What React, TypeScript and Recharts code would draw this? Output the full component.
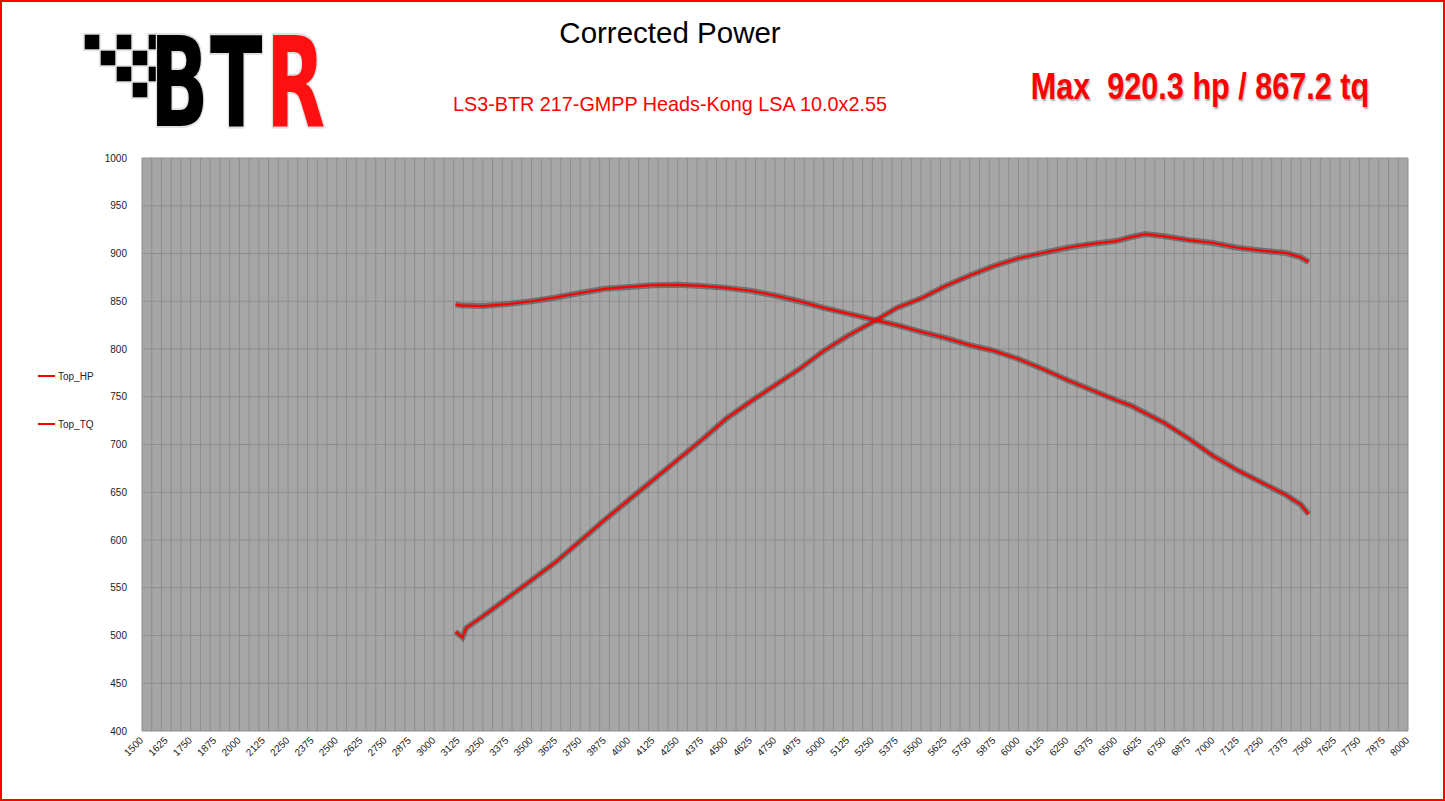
import React from 'react';
import { LineChart, Line, XAxis, YAxis, CartesianGrid } from 'recharts';

const rpm = [3110, 3145, 3165, 3250, 3375, 3500, 3625, 3750, 3875, 4000, 4125, 4250, 4375, 4500, 4625, 4750, 4875, 5000, 5125, 5250, 5375, 5500, 5625, 5750, 5875, 6000, 6125, 6250, 6375, 6500, 6575, 6650, 6750, 6875, 7000, 7125, 7250, 7375, 7450, 7490];
const topHP = [504, 498, 508, 520, 539, 558, 577, 599, 621, 642, 663, 684, 705, 727, 745, 762, 779, 798, 814, 828, 843, 853, 866, 877, 887, 895, 900.5, 906, 910, 913, 917, 920.3, 918, 914, 911, 906, 903, 900.5, 896, 891];
const topTQ = [846.5, 845.5, 845.5, 845, 847, 850, 854, 858.6, 863, 865, 866.8, 867.2, 866, 864, 861, 856, 850, 843, 837, 831, 825, 818, 811.5, 804, 798, 789.5, 779, 767.5, 757, 746.6, 741, 733, 722.5, 706, 688, 673, 660, 647, 637, 627];

const xTicks: number[] = [];
for (let v = 1500; v <= 8000; v += 125) xTicks.push(v);
const yTicks: number[] = [];
for (let v = 400; v <= 1000; v += 50) yTicks.push(v);
const xGrid: number[] = [];
for (let v = 1500; v <= 8000; v += 50) xGrid.push(v);

const seriesNames = ['Top_HP', 'Top_TQ'];
const titleText = 'Corrected Power';
const subtitleText = 'LS3-BTR 217-GMPP Heads-Kong LSA 10.0x2.55';
const maxText = 'Max  920.3 hp / 867.2 tq';
const logoLetters = [
  { ch: 'B', x: 150, color: '#000' },
  { ch: 'T', x: 210, color: '#000' },
  { ch: 'R', x: 266, color: '#ff1010' },
];

const data = rpm.map((r, i) => ({ rpm: r, hp: topHP[i], tq: topTQ[i] }));

const FONT = '"Liberation Sans", Arial, sans-serif';

const XTick = (props: any) => {
  const { x, y, payload } = props;
  return (
    <text x={x + 2} y={y + 2} transform={`rotate(-45, ${x + 2}, ${y + 2})`} textAnchor="end" fontSize={10} fill="#222" fontFamily={FONT}>
      {payload.value}
    </text>
  );
};

const LegendBox = () => (
  <div style={{ position: 'absolute', left: 38, top: 370, fontFamily: FONT, fontSize: 10, color: '#222' }}>
    {seriesNames.map((n, i) => (
      <div key={n} style={{ display: 'flex', alignItems: 'center', height: 12, marginBottom: i === 0 ? 36 : 0 }}>
        <div style={{ width: 17, height: 2, background: '#ff0000', marginRight: 3 }} />
        <span>{n}</span>
      </div>
    ))}
  </div>
);

const Logo = () => {
  const black = [
    [84, 34], [116, 34], [148, 34],
    [100, 50], [132, 50],
    [116, 66], [148, 66],
    [132, 82],
  ];
  return (
    <svg width={300} height={150} style={{ position: 'absolute', left: 60, top: 4 }} viewBox="60 4 300 150">
      {black.map(([x, y], i) => (
        <rect key={i} x={x} y={y} width={16} height={16} fill="#000" stroke="#ddd" strokeWidth={1.5} />
      ))}
      {logoLetters.map((l) => (
        <g key={l.ch} transform={`translate(${l.x},126) scale(0.62,1)`}>
          <text x={0} y={0} fontSize={124} fontWeight={900} fontFamily='"DejaVu Sans", sans-serif' fill={l.color} stroke="#e0e0e0" strokeWidth={4} paintOrder="stroke">{l.ch}</text>
        </g>
      ))}
    </svg>
  );
};

export default function App() {
  return (
    <div style={{ position: 'absolute', left: 0, top: 0, width: 1445, height: 801, background: '#fff', overflow: 'hidden' }}>
      <Logo />
      <div style={{ position: 'absolute', left: 420, width: 500, top: 16, textAlign: 'center', fontFamily: FONT, fontSize: 29.5, color: '#000' }}>{titleText}</div>
      <div style={{ position: 'absolute', left: 420, width: 500, top: 93, textAlign: 'center', fontFamily: FONT, fontSize: 19.8, color: '#ff0000' }}>{subtitleText}</div>
      <div style={{ position: 'absolute', left: 1000, width: 400, top: 66, textAlign: 'center', fontFamily: FONT, fontSize: 36, fontWeight: 700, color: '#ff0000', whiteSpace: 'pre', transform: 'scaleX(0.85)', textShadow: '1px 2px 2px rgba(0,0,0,0.35)' }}>{maxText}</div>
      <LegendBox />
      <div style={{ position: 'absolute', left: 0, top: 0 }}>
        <LineChart width={1445} height={801} data={data} margin={{ top: 158, right: 37, bottom: 0, left: 0 }}>
          <CartesianGrid
            fill="#a6a6a6"
            stroke="#8d8d8d"
            strokeWidth={1}
            horizontalValues={yTicks}
            verticalValues={xGrid}
          />
          <XAxis
            dataKey="rpm"
            type="number"
            domain={[1500, 8000]}
            ticks={xTicks}
            interval={0}
            tick={<XTick />}
            tickLine={false}
            axisLine={false}
            height={70}
          />
          <YAxis
            type="number"
            domain={[400, 1000]}
            ticks={yTicks}
            interval={0}
            width={142}
            tickLine={false}
            axisLine={false}
            tickMargin={9}
            tick={{ fontSize: 10, fill: '#222', fontFamily: FONT }}
          />
          <Line dataKey="hp" type="linear" stroke="rgba(50,50,50,0.45)" strokeWidth={6} dot={false} isAnimationActive={false} legendType="none" />
          <Line dataKey="tq" type="linear" stroke="rgba(50,50,50,0.45)" strokeWidth={6} dot={false} isAnimationActive={false} legendType="none" />
          <Line dataKey="hp" name="Top_HP" type="linear" stroke="#ff0000" strokeWidth={2.2} dot={false} isAnimationActive={false} />
          <Line dataKey="tq" name="Top_TQ" type="linear" stroke="#ff0000" strokeWidth={2.2} dot={false} isAnimationActive={false} />
        </LineChart>
      </div>
      <div style={{ position: 'absolute', left: 0, top: 0, width: 1445, height: 801, border: '2px solid #ff0000', boxSizing: 'border-box', pointerEvents: 'none' }} />
    </div>
  );
}
